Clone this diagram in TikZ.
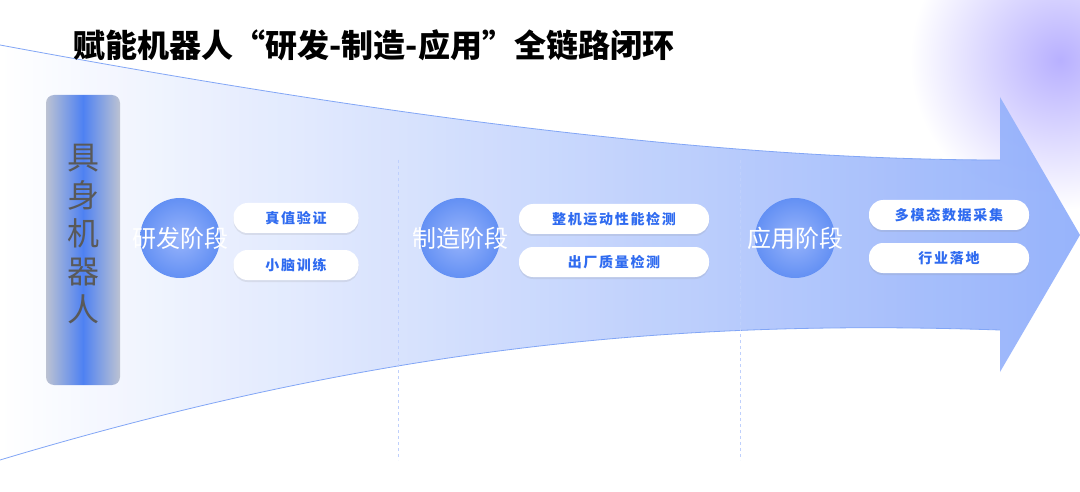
\documentclass[tikz,border=0pt]{standalone}
\usepackage{fontspec}
\setmainfont{Noto Sans CJK SC}
\newfontfamily\spaced{Noto Sans CJK SC}[LetterSpace=12]
\usetikzlibrary{shadows}
\definecolor{tblue}{HTML}{2F6BF0}
\definecolor{lblue}{HTML}{DCE6FF}
\definecolor{mblue}{HTML}{7FA2FA}
\definecolor{vio}{HTML}{B8B0FF}
\tikzset{
  pill/.style={fill=white, rounded corners=14pt, minimum height=30pt, text=tblue, font=\spaced\bfseries\fontsize{14}{17}\selectfont, inner xsep=10pt, drop shadow={opacity=0.15, shadow xshift=0pt, shadow yshift=-2pt}},
  stage/.style={circle, minimum size=80pt, inner sep=0pt, shading=radial, inner color=mblue!80, outer color=tblue!75},
  stagetxt/.style={text=white, font=\fontsize{24}{26}\selectfont},
  sep/.style={dashed, draw=mblue!50, line width=0.8pt}
}
\begin{document}
\begin{tikzpicture}[x=1pt,y=-1pt]
\useasboundingbox (0,0) rectangle (1080,492);
\fill[white] (0,0) rectangle (1080,492);
\shade[inner color=vio, outer color=white] (1060,60) circle (150);
% funnel arrow
\shade[left color=white, right color=mblue!90, opacity=0.9]
  (0,45) .. controls (350,110) and (700,160) .. (1000,160) -- (1000,97) -- (1080,235) -- (1000,372) -- (1000,330)
  .. controls (700,320) and (400,340) .. (0,460) -- cycle;
\draw[tblue!60, line width=0.8pt] (0,45) .. controls (350,110) and (700,160) .. (1000,160);
\draw[tblue!60, line width=0.8pt] (1000,330) .. controls (700,320) and (400,340) .. (0,460);
\draw[sep] (398,160) -- (398,460);
\draw[sep] (740,160) -- (740,460);
% title
\node[anchor=west, font=\bfseries\fontsize{32}{36}\selectfont] (title) at (70,45) {赋能机器人“研发-制造-应用”全链路闭环};
% left bar
\shade[rounded corners=8pt, left color=gray!35!lblue, right color=gray!35!lblue, middle color=tblue!85] (46,95) rectangle (120,385);
\node[text=gray!70!black, font=\fontsize{32}{38}\selectfont, align=center] (bar) at (83,234) {具\\身\\机\\器\\人};
% stages
\node[stage] (s1) at (180,238) {};
\node[stage] (s2) at (460,238) {};
\node[stage] (s3) at (795,238) {};
\node[stagetxt] (t1) at (s1) {研发阶段};
\node[stagetxt] (t2) at (s2) {制造阶段};
\node[stagetxt] (t3) at (s3) {应用阶段};
\node[pill, minimum width=125pt] (p11) at (296,218) {真值验证};
\node[pill, minimum width=125pt] (p12) at (296,265) {小脑训练};
\node[pill, minimum width=190pt] (p21) at (614,219) {整机运动性能检测};
\node[pill, minimum width=190pt] (p22) at (614,262) {出厂质量检测};
\node[pill, minimum width=160pt] (p31) at (949,215) {多模态数据采集};
\node[pill, minimum width=160pt] (p32) at (949,258) {行业落地};
\end{tikzpicture}
\end{document}
